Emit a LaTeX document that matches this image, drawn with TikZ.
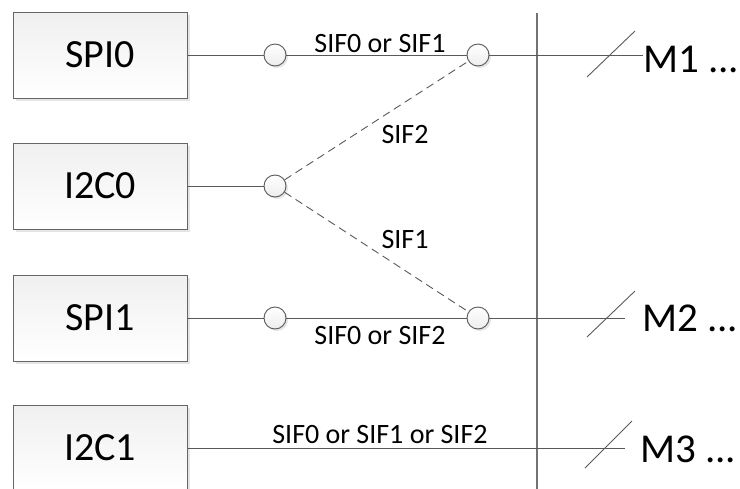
\documentclass[tikz,border=0pt]{standalone}
\usepackage{fontspec}
\setmainfont{Carlito}
\usetikzlibrary{shadows}
\begin{document}
\begin{tikzpicture}[x=1pt,y=-1pt,
  blk/.style={draw=black!60, line width=1pt, top color=black!6, bottom color=white,
    minimum width=174pt, minimum height=86pt, inner sep=0pt,
    font=\fontsize{40}{48}\selectfont,
    drop shadow={shadow xshift=3pt, shadow yshift=-3pt, fill=black!10, opacity=1}},
  sw/.style={circle, draw=black!65, line width=0.9pt, minimum size=22pt, inner sep=0pt,
    top color=white, bottom color=black!7,
    drop shadow={shadow xshift=2pt, shadow yshift=-2pt, fill=black!10, opacity=1}},
  conn/.style={draw=black!65, line width=0.9pt},
  dconn/.style={conn, dash pattern=on 8pt off 5pt},
  lbl/.style={font=\fontsize{28}{32}\selectfont, inner sep=0pt, anchor=base},
  mtxt/.style={font=\fontsize{41}{48}\selectfont, inner sep=0pt, anchor=base west},
  bar/.style={draw=black!55, line width=1.2pt}
]
\useasboundingbox (0,0) rectangle (740,488);

% blocks
\node[blk] (spi0) at (100,55) {SPI0};
\node[blk] (i2c0) at (100,186) {I2C0};
\node[blk] (spi1) at (100,318) {SPI1};
\node[blk] (i2c1) at (100,448) {I2C1};

% switch points
\node[sw] (a1) at (275,55) {};
\node[sw] (a2) at (478,55) {};
\node[sw] (b) at (275,186) {};
\node[sw] (c1) at (275,318) {};
\node[sw] (c2) at (478,318) {};

% outputs
\node[mtxt] (m1) at (643,72) {M1 ...};
\node[mtxt] (m2) at (642,331) {M2 ...};
\node[mtxt] (m3) at (640,462) {M3 ...};

\coordinate (e1) at (643,55);
\coordinate (e2) at (625,318);
\coordinate (e3) at (625,448);

% vertical bus line
\coordinate (vt) at (537,13);
\coordinate (vb) at (537,490);
\draw[bar] (vt) -- (vb);

% connectors
\draw[conn] (spi0) -- (a1);
\draw[conn] (a1) -- (a2);
\draw[conn] (a2) -- (e1);
\draw[conn] (i2c0) -- (b);
\draw[dconn] (b) -- (a2);
\draw[dconn] (b) -- (c2);
\draw[conn] (spi1) -- (c1);
\draw[conn] (c1) -- (c2);
\draw[conn] (c2) -- (e2);
\draw[conn] (i2c1) -- (e3);

% bus slashes
\coordinate (s1a) at (587,77); \coordinate (s1b) at (635,31);
\coordinate (s2a) at (587,337); \coordinate (s2b) at (635,291);
\coordinate (s3a) at (585,468); \coordinate (s3b) at (632,421);
\draw[conn] (s1a) -- (s1b);
\draw[conn] (s2a) -- (s2b);
\draw[conn] (s3a) -- (s3b);

% labels
\node[lbl] (l1) at (380,52) {SIF0 or SIF1};
\node[lbl] (l2) at (405,143) {SIF2};
\node[lbl] (l3) at (405,248) {SIF1};
\node[lbl] (l4) at (380,344) {SIF0 or SIF2};
\node[lbl] (l5) at (380,443) {SIF0 or SIF1 or SIF2};
\end{tikzpicture}
\end{document}
